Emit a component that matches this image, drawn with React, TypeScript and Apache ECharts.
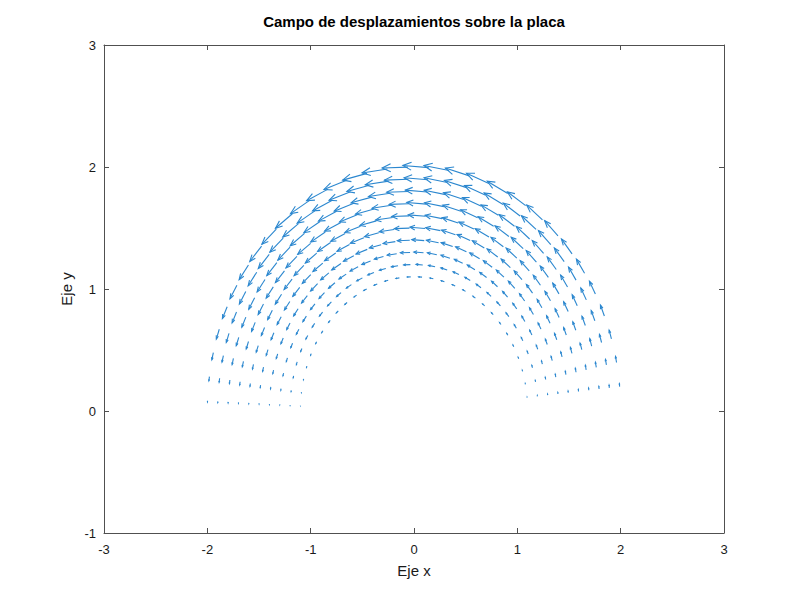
import React, { useEffect, useRef } from "react";
import * as echarts from "echarts";

// Polar sampling grid of the plate (radius, angle in radians)
const radii = [1.1, 1.2, 1.3, 1.4, 1.5, 1.6, 1.7, 1.8, 1.9, 2.0];
const angles = [
  0.1, 0.2, 0.3, 0.4, 0.5, 0.6, 0.7, 0.8, 0.9, 1.0, 1.1, 1.2, 1.3, 1.4, 1.5, 1.6,
  1.7, 1.8, 1.9, 2.0, 2.1, 2.2, 2.3, 2.4, 2.5, 2.6, 2.7, 2.8, 2.9, 3.0, 3.1,
];
// Displacement magnitude read at the crown for each ring
const ringMagnitude = [0.034, 0.066, 0.094, 0.121, 0.146, 0.169, 0.191, 0.212, 0.231, 0.25];
// Relative magnitude along the arc for each angle
const angleFactor = [
  0.10, 0.20, 0.30, 0.39, 0.48, 0.56, 0.64, 0.72, 0.78, 0.84, 0.89, 0.93, 0.96, 0.99, 1.0, 1.0,
  0.99, 0.97, 0.95, 0.91, 0.86, 0.81, 0.75, 0.68, 0.60, 0.52, 0.43, 0.34, 0.24, 0.14, 0.04,
];
const xTicks = [-3, -2, -1, 0, 1, 2, 3];
const yTicks = [-1, 0, 1, 2, 3];

const titleText = "Campo de desplazamientos sobre la placa";
const xName = "Eje x";
const yName = "Eje y";

const FONT = "'Liberation Sans', Arial, Helvetica, sans-serif";
const TEXT_COLOR = "#1a1a1a";
const AXIS_COLOR = "#505050";
const ARROW_COLOR = "#2b87cf";

function buildArrows() {
  const out: number[][] = [];
  radii.forEach((r, i) => {
    angles.forEach((t, j) => {
      const x = r * Math.cos(t);
      const y = r * Math.sin(t);
      const m = ringMagnitude[i] * angleFactor[j];
      const u = -Math.sin(t) * m;
      const v = Math.cos(t) * m;
      out.push([x, y, u, v]);
    });
  });
  return out;
}

export default function App() {
  const ref = useRef<HTMLDivElement>(null);
  useEffect(() => {
    if (!ref.current) return;
    const chart = echarts.init(ref.current, null, { renderer: "svg" });
    const arrows = buildArrows();
    const axisCommon = {
      type: "value" as const,
      splitLine: { show: false },
      axisLine: { show: true, onZero: false, lineStyle: { color: AXIS_COLOR, width: 1 } },
      axisTick: { show: true, inside: true, length: 5, lineStyle: { color: AXIS_COLOR, width: 1 } },
    };
    chart.setOption({
      animation: false,
      backgroundColor: "#ffffff",
      title: {
        text: titleText,
        left: 414,
        top: 14,
        padding: 0,
        textAlign: "center",
        textStyle: { fontFamily: FONT, fontSize: 15, fontWeight: "bold", color: "#000" },
      },
      grid: { left: 104, top: 45, width: 620, height: 488, containLabel: false },
      xAxis: [
        {
          ...axisCommon,
          position: "bottom",
          min: xTicks[0],
          max: xTicks[xTicks.length - 1],
          interval: 1,
          name: xName,
          nameLocation: "middle",
          nameGap: 30,
          nameTextStyle: { fontFamily: FONT, fontSize: 15, color: TEXT_COLOR },
          axisLabel: { fontFamily: FONT, fontSize: 13, color: TEXT_COLOR, margin: 10 },
        },
        {
          ...axisCommon,
          position: "top",
          min: xTicks[0],
          max: xTicks[xTicks.length - 1],
          interval: 1,
          axisLabel: { show: false },
        },
      ],
      yAxis: [
        {
          ...axisCommon,
          position: "left",
          min: yTicks[0],
          max: yTicks[yTicks.length - 1],
          interval: 1,
          name: yName,
          nameLocation: "middle",
          nameGap: 26,
          nameTextStyle: { fontFamily: FONT, fontSize: 15, color: TEXT_COLOR },
          axisLabel: { fontFamily: FONT, fontSize: 13, color: TEXT_COLOR, margin: 8 },
        },
        {
          ...axisCommon,
          position: "right",
          min: yTicks[0],
          max: yTicks[yTicks.length - 1],
          interval: 1,
          axisLabel: { show: false },
        },
      ],
      series: [
        {
          type: "custom",
          xAxisIndex: 0,
          yAxisIndex: 0,
          data: arrows,
          clip: false,
          renderItem: (params: any, api: any) => {
            const x0 = api.value(0);
            const y0 = api.value(1);
            const u = api.value(2);
            const v = api.value(3);
            const hb = 0.33;
            const hw = 0.13;
            const x1 = x0 + u;
            const y1 = y0 + v;
            const xt = x0 + u * (1 - hb);
            const yt = y0 + v * (1 - hb);
            const pa = api.coord([xt - v * hw, yt + u * hw]);
            const pb = api.coord([xt + v * hw, yt - u * hw]);
            const p0 = api.coord([x0, y0]);
            const p1 = api.coord([x1, y1]);
            const style = { stroke: ARROW_COLOR, lineWidth: 1.1, fill: null };
            return {
              type: "group",
              children: [
                { type: "polyline", shape: { points: [p0, p1] }, style },
                { type: "polyline", shape: { points: [pa, p1, pb] }, style },
              ],
            };
          },
        },
      ],
    });
    return () => chart.dispose();
  }, []);
  return (
    <div
      ref={ref}
      style={{ position: "fixed", left: 0, top: 0, width: 800, height: 600, background: "#fff" }}
    />
  );
}
